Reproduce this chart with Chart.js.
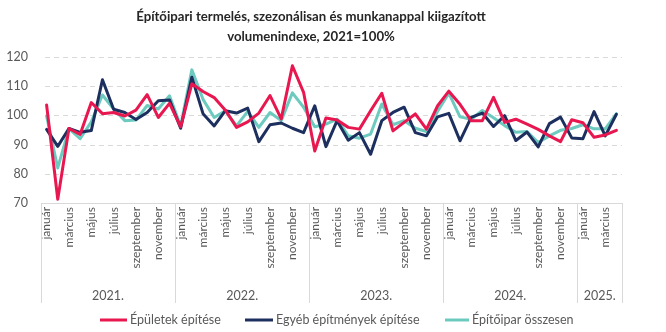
<!DOCTYPE html>
<html>
<head>
<meta charset="utf-8">
<script src="https://cdn.jsdelivr.net/npm/chart.js@4.4.1/dist/chart.umd.min.js"></script>
<style>
  html, body { margin: 0; padding: 0; background: #fff; }
  #wrap { width: 666px; height: 332px; }
</style>
</head>
<body>
<div id="wrap"><canvas id="myChart" width="666" height="332"></canvas></div>
<script>
'use strict';

let monthNames = ['január', 'február', 'március', 'április', 'május', 'június', 'július', 'augusztus', 'szeptember', 'október', 'november', 'december'];
let yearNames = ['2021.', '2022.', '2023.', '2024.', '2025.'];
let monthsPerYear = [12, 12, 12, 12, 4];
let yTicks = [70, 80, 90, 100, 110, 120];

let seriesNames = ['Épületek építése', 'Egyéb építmények építése', 'Építőipar összesen'];
let seriesColors = ['#e8174f', '#1c2f5e', '#6ccabf'];

let epuletek = [
    103.6, 71.3, 95.5, 93.5, 104.4, 100.6, 101.0, 99.8, 101.8, 107.1, 99.3, 104.1,
    96.1, 110.8, 108.2, 106.1, 101.8, 95.9, 97.8, 100.8, 106.8, 98.8, 117.0, 107.9,
    87.8, 99.1, 98.4, 95.9, 95.3, 101.6, 107.6, 94.7, 97.6, 100.5, 95.3, 103.3,
    108.3, 103.8, 98.2, 98.2, 106.2, 97.6, 98.7, 97.0, 95.2, 93.0, 91.0, 98.5,
    97.5, 92.5, 93.3, 94.9
];
let egyeb = [
    95.2, 89.4, 95.5, 94.2, 94.8, 112.2, 102.1, 101.0, 98.6, 101.0, 105.0, 105.3,
    95.6, 113.1, 100.6, 96.4, 101.6, 100.8, 102.5, 91.0, 96.8, 97.4, 95.6, 94.1,
    103.3, 89.3, 98.2, 91.5, 94.1, 86.7, 98.2, 101.0, 102.8, 94.1, 93.0, 99.5,
    100.7, 91.3, 99.3, 100.8, 96.2, 99.9, 91.4, 94.3, 89.2, 97.2, 99.4, 92.3,
    92.0, 101.3, 93.0, 100.4
];
let osszesen = [
    99.8, 82.0, 95.5, 92.0, 97.8, 107.0, 102.2, 98.2, 98.4, 103.4, 102.2, 106.7,
    96.4, 115.6, 105.5, 99.3, 101.6, 96.4, 101.4, 95.9, 101.0, 98.2, 107.7, 102.8,
    96.1, 97.0, 98.7, 93.0, 92.2, 93.6, 103.9, 96.8, 98.2, 95.6, 94.5, 101.4,
    107.6, 99.5, 98.7, 101.7, 99.2, 96.5, 94.2, 94.5, 90.7, 93.0, 94.9, 95.5,
    96.8, 95.4, 95.4, 100.6
];

let labels = [];
for (let y = 0; y < yearNames.length; y++) {
    for (let m = 0; m < monthsPerYear[y]; m++) {
        labels.push(monthNames[m]);
    }
}

let textColor = '#595959';
let fontName = 'Lato, "Open Sans", sans-serif';

// dashed horizontal grid lines (drawn under the lines)
let dashedGridPlugin = {
    id: 'dashedGrid',
    beforeDatasetsDraw(chart) {
        let ctx = chart.ctx;
        let yScale = chart.scales.y;
        ctx.save();
        ctx.strokeStyle = '#d9d9d9';
        ctx.lineWidth = 1;
        ctx.setLineDash([5, 4]);
        for (let i = 1; i < yTicks.length; i++) {
            let y = Math.round(yScale.getPixelForValue(yTicks[i])) + 0.5;
            ctx.beginPath();
            ctx.moveTo(chart.chartArea.left + 4, y);
            ctx.lineTo(chart.chartArea.right, y);
            ctx.stroke();
        }
        ctx.restore();
    }
};

// year groups under the month labels, with the grey separator lines, and the legend
let yearAxisPlugin = {
    id: 'yearAxis',
    afterDraw(chart) {
        let ctx = chart.ctx;
        let xScale = chart.scales.x;
        let top = chart.chartArea.bottom;
        let bottom = top + 100;
        let edges = [chart.chartArea.left];
        let idx = 0;
        for (let y = 0; y < yearNames.length; y++) {
            idx += monthsPerYear[y];
            if (idx < labels.length) {
                edges.push((xScale.getPixelForValue(idx - 1) + xScale.getPixelForValue(idx)) / 2);
            } else {
                edges.push(chart.chartArea.right);
            }
        }
        ctx.save();
        ctx.strokeStyle = '#d9d9d9';
        ctx.lineWidth = 1;
        for (let i = 0; i < edges.length; i++) {
            let x = Math.round(edges[i]) + 0.5;
            ctx.beginPath();
            ctx.moveTo(x, top);
            ctx.lineTo(x, bottom);
            ctx.stroke();
        }
        ctx.fillStyle = textColor;
        ctx.font = '12.5px ' + fontName;
        ctx.textAlign = 'center';
        ctx.textBaseline = 'middle';
        for (let y = 0; y < yearNames.length; y++) {
            ctx.fillText(yearNames[y], (edges[y] + edges[y + 1]) / 2, top + 93);
        }

        // legend
        let legendY = 320;
        let items = [[100, 130], [245, 276], [445, 472]];
        ctx.textAlign = 'left';
        for (let i = 0; i < seriesNames.length; i++) {
            ctx.strokeStyle = seriesColors[i];
            ctx.lineWidth = 3;
            ctx.beginPath();
            ctx.moveTo(items[i][0], legendY);
            ctx.lineTo(items[i][1] - 3, legendY);
            ctx.stroke();
            ctx.fillStyle = textColor;
            ctx.fillText(seriesNames[i], items[i][1], legendY);
        }
        ctx.restore();
    }
};

function makeDataset(i, values) {
    return {
        label: seriesNames[i],
        data: values,
        borderColor: seriesColors[i],
        backgroundColor: seriesColors[i],
        borderWidth: 3,
        pointRadius: 0,
        tension: 0,
        borderJoinStyle: 'round',
        borderCapStyle: 'round'
    };
}

let ctx = document.getElementById('myChart').getContext('2d');
let chart = new Chart(ctx, {
    type: 'line',
    data: {
        labels: labels,
        datasets: [
            makeDataset(0, epuletek),
            makeDataset(1, egyeb),
            makeDataset(2, osszesen)
        ]
    },
    options: {
        responsive: false,
        animation: false,
        layout: { padding: { left: 0, right: 44, top: 0, bottom: 25 } },
        plugins: {
            legend: { display: false },
            tooltip: { enabled: false },
            title: {
                display: true,
                text: ['Építőipari termelés, szezonálisan és munkanappal kiigazított', 'volumenindexe, 2021=100%'],
                color: '#262626',
                font: { family: fontName, size: 13.2, weight: 'bold', lineHeight: '20px' },
                padding: { top: 7, bottom: 10 }
            }
        },
        scales: {
            x: {
                offset: true,
                grid: { display: false, drawTicks: false },
                border: { display: true, color: '#d9d9d9', width: 1 },
                afterFit: function (scale) { scale.height = 104; },
                ticks: {
                    autoSkip: false,
                    maxRotation: 90,
                    minRotation: 90,
                    padding: 4,
                    color: textColor,
                    font: { family: fontName, size: 12 },
                    callback: function (value, index) {
                        return index % 2 === 0 ? labels[index] : '';
                    }
                }
            },
            y: {
                min: 70,
                max: 120,
                afterFit: function (scale) { scale.width = 41; },
                afterBuildTicks: function (scale) {
                    scale.ticks = yTicks.map(function (v) { return { value: v }; });
                },
                grid: { display: false, drawTicks: false },
                border: { display: false },
                ticks: {
                    padding: 13,
                    color: textColor,
                    font: { family: fontName, size: 12.5 }
                }
            }
        }
    },
    plugins: [dashedGridPlugin, yearAxisPlugin]
});
</script>
</body>
</html>
